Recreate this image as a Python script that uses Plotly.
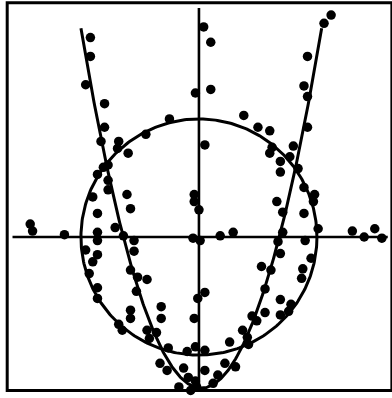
import numpy as np
import plotly.graph_objects as go

# Scattered observations (x, y), grouped by region of the plane
obs_x_upper = [-0.92, -0.92, -0.96, -0.80, -0.80, -0.83, -0.25, -0.45, -0.68, -0.69,
               -0.60, -0.81, -0.77, -0.86, -0.77, -0.77, -0.61, -0.90,
               0.04, 0.10, 0.10, -0.03, 0.05,
               1.12, 1.06, 0.92, 0.89, 0.92, 0.92,
               0.38, 0.50, 0.60, 0.62, 0.60, 0.80, 0.69, 0.77, 0.84, 0.69,
               0.89, 0.98, 0.66, -0.04]
obs_y_upper = [1.69, 1.53, 1.29, 1.13, 0.93, 0.81, 1.00, 0.87, 0.81, 0.75,
               0.71, 0.59, 0.61, 0.53, 0.48, 0.40, 0.36, 0.34,
               1.78, 1.65, 1.25, 1.22, 0.78,
               1.88, 1.81, 1.53, 1.28, 1.19, 0.93,
               1.03, 0.93, 0.90, 0.76, 0.71, 0.77, 0.64, 0.68, 0.58, 0.55,
               0.42, 0.36, 0.30, 0.36]

obs_x_middle = [-1.43, -1.41, -1.14, -0.86, -0.58, -0.86, -0.86, -0.71, -0.64, -0.55,
                -0.55, -0.96, -0.86, -0.90, -0.93, -0.58, -0.52, -0.44, -0.86, -0.53,
                -0.86, -0.04, 0.00, -0.05, 0.01, 0.18, 0.29, 0.71, 0.97, 0.89,
                1.01, 0.71, 0.67, 0.90, 0.69, 0.95, 0.53, 0.61, 0.88, 0.87,
                0.56, 0.69, 1.30, 1.40, 1.49, 1.55]
obs_y_middle = [0.11, 0.05, 0.02, 0.20, 0.24, 0.04, -0.03, 0.08, 0.01, -0.03,
                -0.12, -0.11, -0.15, -0.21, -0.31, -0.28, -0.34, -0.36, -0.43, -0.46,
                -0.52, 0.30, 0.23, -0.01, -0.03, 0.01, 0.04, 0.21, 0.30, 0.20,
                0.07, 0.04, -0.04, -0.03, -0.14, -0.18, -0.25, -0.28, -0.27, -0.35,
                -0.44, -0.53, 0.05, 0.00, 0.07, -0.01]

obs_x_lower = [-0.58, -0.58, -0.32, -0.32, -0.68, -0.65, -0.44, -0.36, -0.42, -0.26,
               -0.10, -0.33, -0.27, -0.13, -0.17, -0.09, -0.04, -0.01, 0.05, -0.07,
               0.56, 0.45, 0.49, 0.37, 0.41, 0.26, 0.42, -0.03, 0.05, 0.22,
               0.31, 0.05, 0.16, -0.03, -0.02, 0.12, 0.69, 0.78, 0.76]
obs_y_lower = [-0.62, -0.69, -0.59, -0.69, -0.74, -0.79, -0.79, -0.81, -0.86, -0.94,
               -0.97, -1.07, -1.13, -1.11, -1.27, -1.19, -0.69, -0.52, -0.47, -1.30,
               -0.64, -0.67, -0.71, -0.79, -0.85, -0.89, -0.91, -0.93, -0.96, -1.07,
               -1.10, -1.13, -1.17, -1.22, -1.27, -1.24, -0.66, -0.57, -0.63]

# Fitted curves: unit circle and parabola y = k (x - x0)^2 + c
circle_radius = 1.0
parabola_k = 2.93
parabola_c = -1.28
parabola_x0 = 0.02
parabola_halfspan = 1.02

obs_x = obs_x_upper + obs_x_middle + obs_x_lower
obs_y = obs_y_upper + obs_y_middle + obs_y_lower

theta = np.linspace(0, 2 * np.pi, 361)
circ_x = circle_radius * np.cos(theta)
circ_y = circle_radius * np.sin(theta)

par_x = np.linspace(parabola_x0 - parabola_halfspan, parabola_x0 + parabola_halfspan, 300)
par_y = parabola_k * (par_x - parabola_x0) ** 2 + parabola_c

fig = go.Figure()
fig.add_trace(go.Scatter(x=circ_x, y=circ_y, mode="lines",
                         line=dict(color="black", width=3), hoverinfo="skip"))
fig.add_trace(go.Scatter(x=par_x, y=par_y, mode="lines",
                         line=dict(color="black", width=3), hoverinfo="skip"))
fig.add_trace(go.Scatter(x=obs_x, y=obs_y, mode="markers",
                         marker=dict(color="black", size=9.5, line=dict(width=0))))

# Coordinate axes through the origin
fig.add_shape(type="line", x0=-1.58, x1=1.60, y0=0, y1=0,
              line=dict(color="black", width=2.4), layer="below")
fig.add_shape(type="line", x0=0, x1=0, y0=-1.30, y1=1.94,
              line=dict(color="black", width=2.6), layer="below")
# Frame
fig.add_shape(type="rect", x0=-1.625, x1=1.635, y0=-1.30, y1=1.985,
              line=dict(color="black", width=3), layer="below")

fig.update_layout(
    width=392, height=398,
    margin=dict(l=0, r=0, t=0, b=0),
    paper_bgcolor="white", plot_bgcolor="white",
    showlegend=False,
    xaxis=dict(range=[-1.686, 1.636], visible=False, fixedrange=True),
    yaxis=dict(range=[-1.364, 2.008], visible=False, fixedrange=True),
)

fig.write_html("out.html")
